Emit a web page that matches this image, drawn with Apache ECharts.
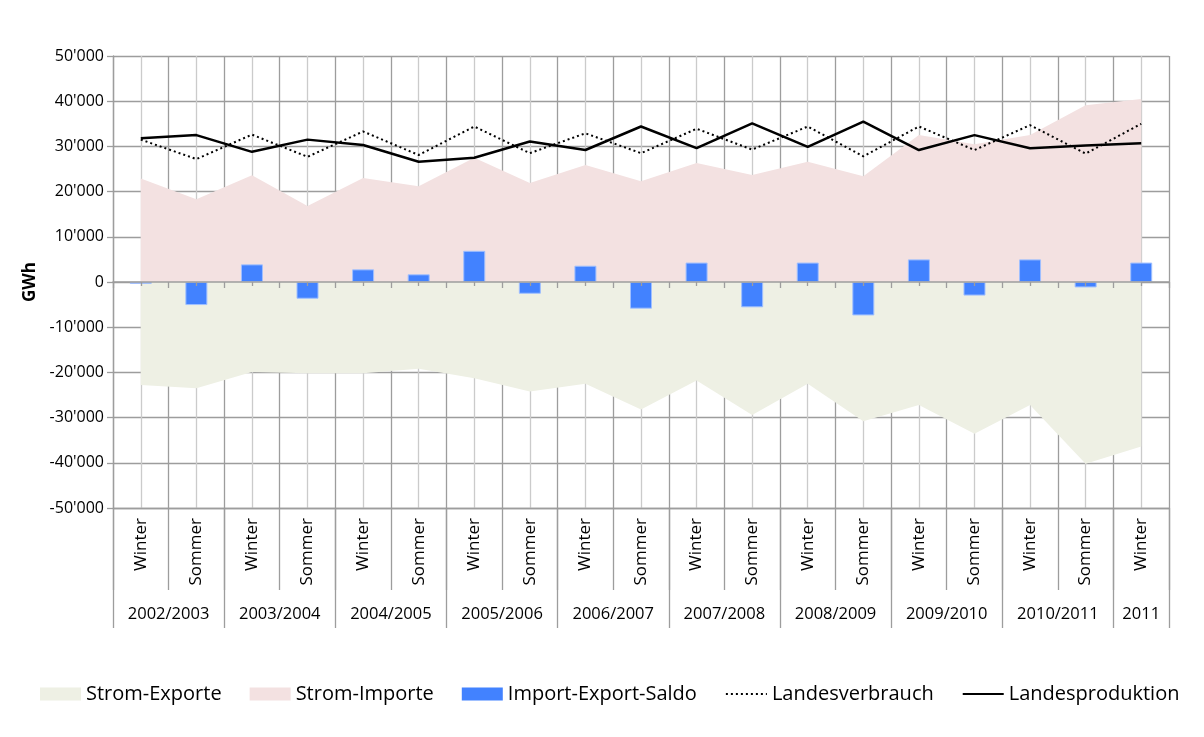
<!DOCTYPE html>
<html>
<head>
<meta charset="utf-8">
<script src="https://cdn.jsdelivr.net/npm/echarts@6/dist/echarts.min.js"></script>
<style>
  html, body { margin: 0; padding: 0; background: #ffffff; }
  #chart { width: 1204px; height: 737px; }
</style>
</head>
<body>
<div id="chart"></div>
<script>
// Half-year seasons and the hydrological years they belong to
const seasons = ['Winter', 'Sommer', 'Winter', 'Sommer', 'Winter', 'Sommer', 'Winter', 'Sommer',
  'Winter', 'Sommer', 'Winter', 'Sommer', 'Winter', 'Sommer', 'Winter', 'Sommer',
  'Winter', 'Sommer', 'Winter'];
const years = ['2002/2003', '2003/2004', '2004/2005', '2005/2006', '2006/2007',
  '2007/2008', '2008/2009', '2009/2010', '2010/2011', '2011'];
const seasonsPerYear = [2, 2, 2, 2, 2, 2, 2, 2, 2, 1];

// Values in GWh
const stromExporte = [-22800, -23500, -19900, -20200, -20200, -19200, -21300, -24200, -22500, -28200,
  -21800, -29400, -22500, -30800, -27200, -33600, -27200, -40200, -36400];
const stromImporte = [22900, 18300, 23600, 16800, 23000, 21200, 27500, 21900, 25900, 22300,
  26300, 23700, 26600, 23400, 32500, 30500, 32500, 39100, 40500];
const saldo = [-400, -5100, 3900, -3700, 2800, 1700, 6900, -2600, 3600, -5900,
  4300, -5600, 4300, -7400, 5000, -3000, 5000, -1200, 4300];
const landesverbrauch = [31500, 27200, 32600, 27700, 33300, 28100, 34400, 28500, 32900, 28500,
  33900, 29300, 34400, 27800, 34400, 29200, 34700, 28400, 35000];
const landesproduktion = [31800, 32500, 28800, 31500, 30300, 26600, 27500, 31100, 29200, 34400,
  29600, 35100, 29900, 35500, 29200, 32500, 29600, 30200, 30700];

const yTicks = [-50000, -40000, -30000, -20000, -10000, 0, 10000, 20000, 30000, 40000, 50000];

// A fine axis with one point per half category: even points are category
// borders, odd points are category centres.
const finePoints = seasons.length * 2 + 1;
const fineLabels = new Array(finePoints).fill('');
const yearBorders = new Set([0]);
let start = 0;
years.forEach((y, j) => {
  const span = seasonsPerYear[j];
  fineLabels[2 * start + span] = y;
  start += span;
  yearBorders.add(2 * start);
});

const FONT = 'Open Sans';
const GRID_DARK = '#9d9d9d';
const GRID_LIGHT = '#cbcbcb';
const HIDDEN_SYMBOL = { color: 'rgba(0,0,0,0)', borderWidth: 0 };

function fmt(v) {
  const s = Math.abs(v).toString();
  const body = s.replace(/\B(?=(\d{3})+(?!\d))/g, "'");
  return (v < 0 ? '-' : '') + body;
}

const chart = echarts.init(document.getElementById('chart'), null, { renderer: 'canvas' });

chart.setOption({
  backgroundColor: '#ffffff',
  animation: false,
  textStyle: { fontFamily: FONT, color: '#000' },
  grid: { left: 113, right: 35, top: 56, bottom: 229, containLabel: false },
  legend: {
    left: 35,
    top: 679,
    itemWidth: 41,
    itemHeight: 13,
    itemGap: 28,
    textStyle: { fontFamily: FONT, fontSize: 20, color: '#000' },
    data: [
      { name: 'Strom-Exporte', icon: 'rect' },
      { name: 'Strom-Importe', icon: 'rect' },
      { name: 'Import-Export-Saldo', icon: 'rect', itemStyle: { borderWidth: 0 } },
      { name: 'Landesverbrauch', itemStyle: HIDDEN_SYMBOL },
      { name: 'Landesproduktion', itemStyle: HIDDEN_SYMBOL }
    ]
  },
  xAxis: [
    {
      // season labels, border gridlines and label separators
      type: 'category',
      data: seasons,
      position: 'bottom',
      boundaryGap: true,
      axisLine: { onZero: false, lineStyle: { color: GRID_DARK, width: 1.3 } },
      axisTick: { show: true, interval: 0, length: 82, lineStyle: { color: GRID_DARK, width: 1.3 } },
      axisLabel: { interval: 0, rotate: 90, margin: 10, fontFamily: FONT, fontSize: 17, color: '#000' },
      splitLine: { show: true, interval: 0, lineStyle: { color: GRID_DARK, width: 1.3 } }
    },
    {
      // year labels, year separators and centre gridlines
      type: 'category',
      data: fineLabels,
      position: 'bottom',
      boundaryGap: false,
      axisLine: { show: false, onZero: false },
      axisTick: {
        show: true,
        interval: (i) => yearBorders.has(i),
        length: 120,
        lineStyle: { color: GRID_DARK, width: 1.3 }
      },
      axisLabel: { interval: 0, margin: 98, fontFamily: FONT, fontSize: 16.5, color: '#000' },
      splitLine: {
        show: true,
        interval: (i) => i % 2 === 1,
        lineStyle: { color: GRID_LIGHT, width: 1.3 }
      }
    },
    {
      // zero line with border ticks
      type: 'category',
      data: seasons,
      boundaryGap: true,
      z: 10,
      axisLine: { show: true, onZero: true, onZeroAxisIndex: 0, lineStyle: { color: GRID_DARK, width: 1.5 } },
      axisTick: { show: true, inside: true, interval: 0, length: 6, lineStyle: { color: GRID_DARK, width: 1.3 } },
      axisLabel: { show: false },
      splitLine: { show: false }
    },
    {
      // short centre ticks on the zero line
      type: 'category',
      data: fineLabels,
      boundaryGap: false,
      z: 10,
      axisLine: { show: false, onZero: true, onZeroAxisIndex: 1 },
      axisTick: {
        show: true, inside: true, length: 4,
        interval: (i) => i % 2 === 1,
        lineStyle: { color: GRID_DARK, width: 1.3 }
      },
      axisLabel: { show: false },
      splitLine: { show: false }
    }
  ],
  yAxis: [
    {
      type: 'value',
      min: yTicks[0],
      max: yTicks[yTicks.length - 1],
      interval: 10000,
      name: 'GWh',
      nameLocation: 'middle',
      nameRotate: 90,
      nameGap: 73,
      nameTextStyle: { fontFamily: FONT, fontSize: 17, fontWeight: 'bold', color: '#000' },
      axisLine: { show: true, lineStyle: { color: GRID_DARK, width: 1.3 } },
      axisTick: { show: true, length: 6, lineStyle: { color: GRID_DARK, width: 1.3 } },
      axisLabel: { margin: 9, fontFamily: FONT, fontSize: 16, color: '#000', formatter: fmt },
      splitLine: { show: true, lineStyle: { color: GRID_DARK, width: 1.3 } }
    },
    {
      type: 'value',
      show: false,
      min: yTicks[0],
      max: yTicks[yTicks.length - 1],
      interval: 10000,
      splitLine: { show: false }
    }
  ],
  series: [
    {
      name: 'Strom-Exporte',
      type: 'line',
      data: stromExporte,
      symbol: 'none',
      color: '#eef0e4',
      lineStyle: { width: 0, color: '#eef0e4' },
      areaStyle: { color: '#eef0e4', opacity: 1 },
      z: 1
    },
    {
      name: 'Strom-Importe',
      type: 'line',
      data: stromImporte,
      symbol: 'none',
      color: '#f3e1e1',
      lineStyle: { width: 0, color: '#f3e1e1' },
      areaStyle: { color: '#f3e1e1', opacity: 1 },
      z: 1
    },
    {
      name: 'Import-Export-Saldo',
      type: 'bar',
      data: saldo,
      barWidth: 22,
      color: '#4282ff',
      itemStyle: { color: '#4282ff', borderColor: '#9fbfff', borderWidth: 1 },
      z: 2
    },
    {
      name: 'Landesverbrauch',
      type: 'line',
      data: landesverbrauch,
      symbol: 'none',
      color: '#000',
      lineStyle: { color: '#000', width: 2, type: [2, 3] },
      z: 3
    },
    {
      name: 'Landesproduktion',
      type: 'line',
      data: landesproduktion,
      symbol: 'none',
      color: '#000',
      lineStyle: { color: '#000', width: 2.5 },
      z: 4
    }
  ]
});
</script>
</body>
</html>
